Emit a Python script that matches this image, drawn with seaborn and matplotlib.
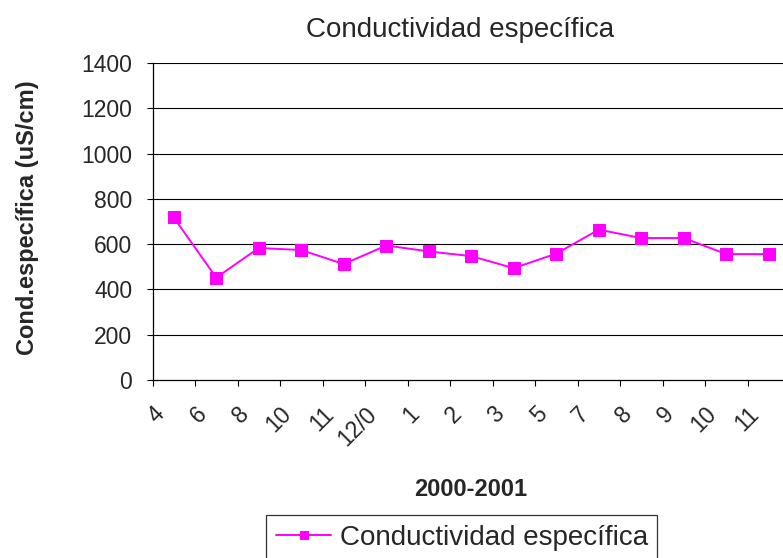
import numpy as np
import pandas as pd
import matplotlib
matplotlib.use("Agg")
import matplotlib.pyplot as plt
import matplotlib.transforms as mtransforms
import seaborn as sns

# Monthly sampling labels (2000-2001) and specific conductance readings (uS/cm)
meses = ["4", "6", "8", "10", "11", "12/0", "1", "2", "3", "5", "7", "8", "9", "10", "11"]
conductividad = [718, 452, 583, 574, 512, 594, 568, 547, 494, 558, 664, 627, 627, 556, 556]
y_ticks = [0, 200, 400, 600, 800, 1000, 1200, 1400]

serie = "Conductividad específica"
df = pd.DataFrame({"pos": np.arange(len(meses)), "valor": conductividad})

sns.set_theme(style="white")
plt.rcParams["font.family"] = ["Liberation Sans", "DejaVu Sans"]

W, H = 783, 558
fig = plt.figure(figsize=(W / 100, H / 100), dpi=100)
fig.patch.set_facecolor("white")

left, right, bottom, top = 152.5, 790, 380, 63
ax = fig.add_axes([left / W, 1 - bottom / H, (right - left) / W, (bottom - top) / H])
ax.set_facecolor("white")

sns.lineplot(data=df, x="pos", y="valor", ax=ax, color="#FF00FF", linewidth=1.4,
             marker="s", markersize=8, markeredgecolor="#FF00FF",
             markerfacecolor="#FF00FF", label=serie, legend=False)

ax.set_xlim(-0.5, len(meses) - 0.5)
ax.set_ylim(0, 1400)
ax.set_yticks(y_ticks)
ax.set_yticklabels([str(v) for v in y_ticks])
ax.set_xticks(np.arange(len(meses)) - 0.5)
ax.set_xticklabels(meses)

# Horizontal gridlines
for v in y_ticks[1:]:
    ax.axhline(v, color="black", linewidth=0.8, zorder=0.5)

for s in ["top", "right"]:
    ax.spines[s].set_visible(False)
for s in ["left", "bottom"]:
    ax.spines[s].set_color("black")
    ax.spines[s].set_linewidth(0.9)

ax.tick_params(axis="y", which="major", direction="out", length=4.5, width=0.8,
               color="black", labelsize=16.5, pad=10, left=True)
ax.tick_params(axis="x", which="major", direction="out", length=4.5, width=0.8,
               color="black", labelsize=16.5, pad=6, bottom=True)
ax.set_xlabel("")
ax.set_ylabel("")

offset = mtransforms.ScaledTranslation(0 / 100, -8 / 100, fig.dpi_scale_trans)
for lab in ax.get_xticklabels():
    lab.set_rotation(45)
    lab.set_ha("right")
    lab.set_va("top")
    lab.set_rotation_mode("anchor")
    lab.set_transform(lab.get_transform() + offset)

fig.text(460 / W, 1 - 37 / H, serie, ha="center", va="baseline", fontsize=20)
fig.text(471 / W, 1 - 496 / H, "2000-2001", ha="center", va="baseline",
         fontsize=17, fontweight="bold")
fig.text(28 / W, 1 - 218 / H, "Cond.específica (uS/cm)", ha="center", va="center",
         rotation=90, fontsize=17, fontweight="bold")

handles, labels = ax.get_legend_handles_labels()
leg = fig.legend(handles, labels, loc="upper left",
                 bbox_to_anchor=(266 / W, 1 - 515 / H), bbox_transform=fig.transFigure,
                 borderaxespad=0, fontsize=20, frameon=True, fancybox=False,
                 handlelength=2.0, handletextpad=0.3, borderpad=0.35, markerscale=0.8)
leg.get_frame().set_edgecolor("black")
leg.get_frame().set_linewidth(0.9)

fig.savefig("out.png", dpi=100, facecolor="white")
